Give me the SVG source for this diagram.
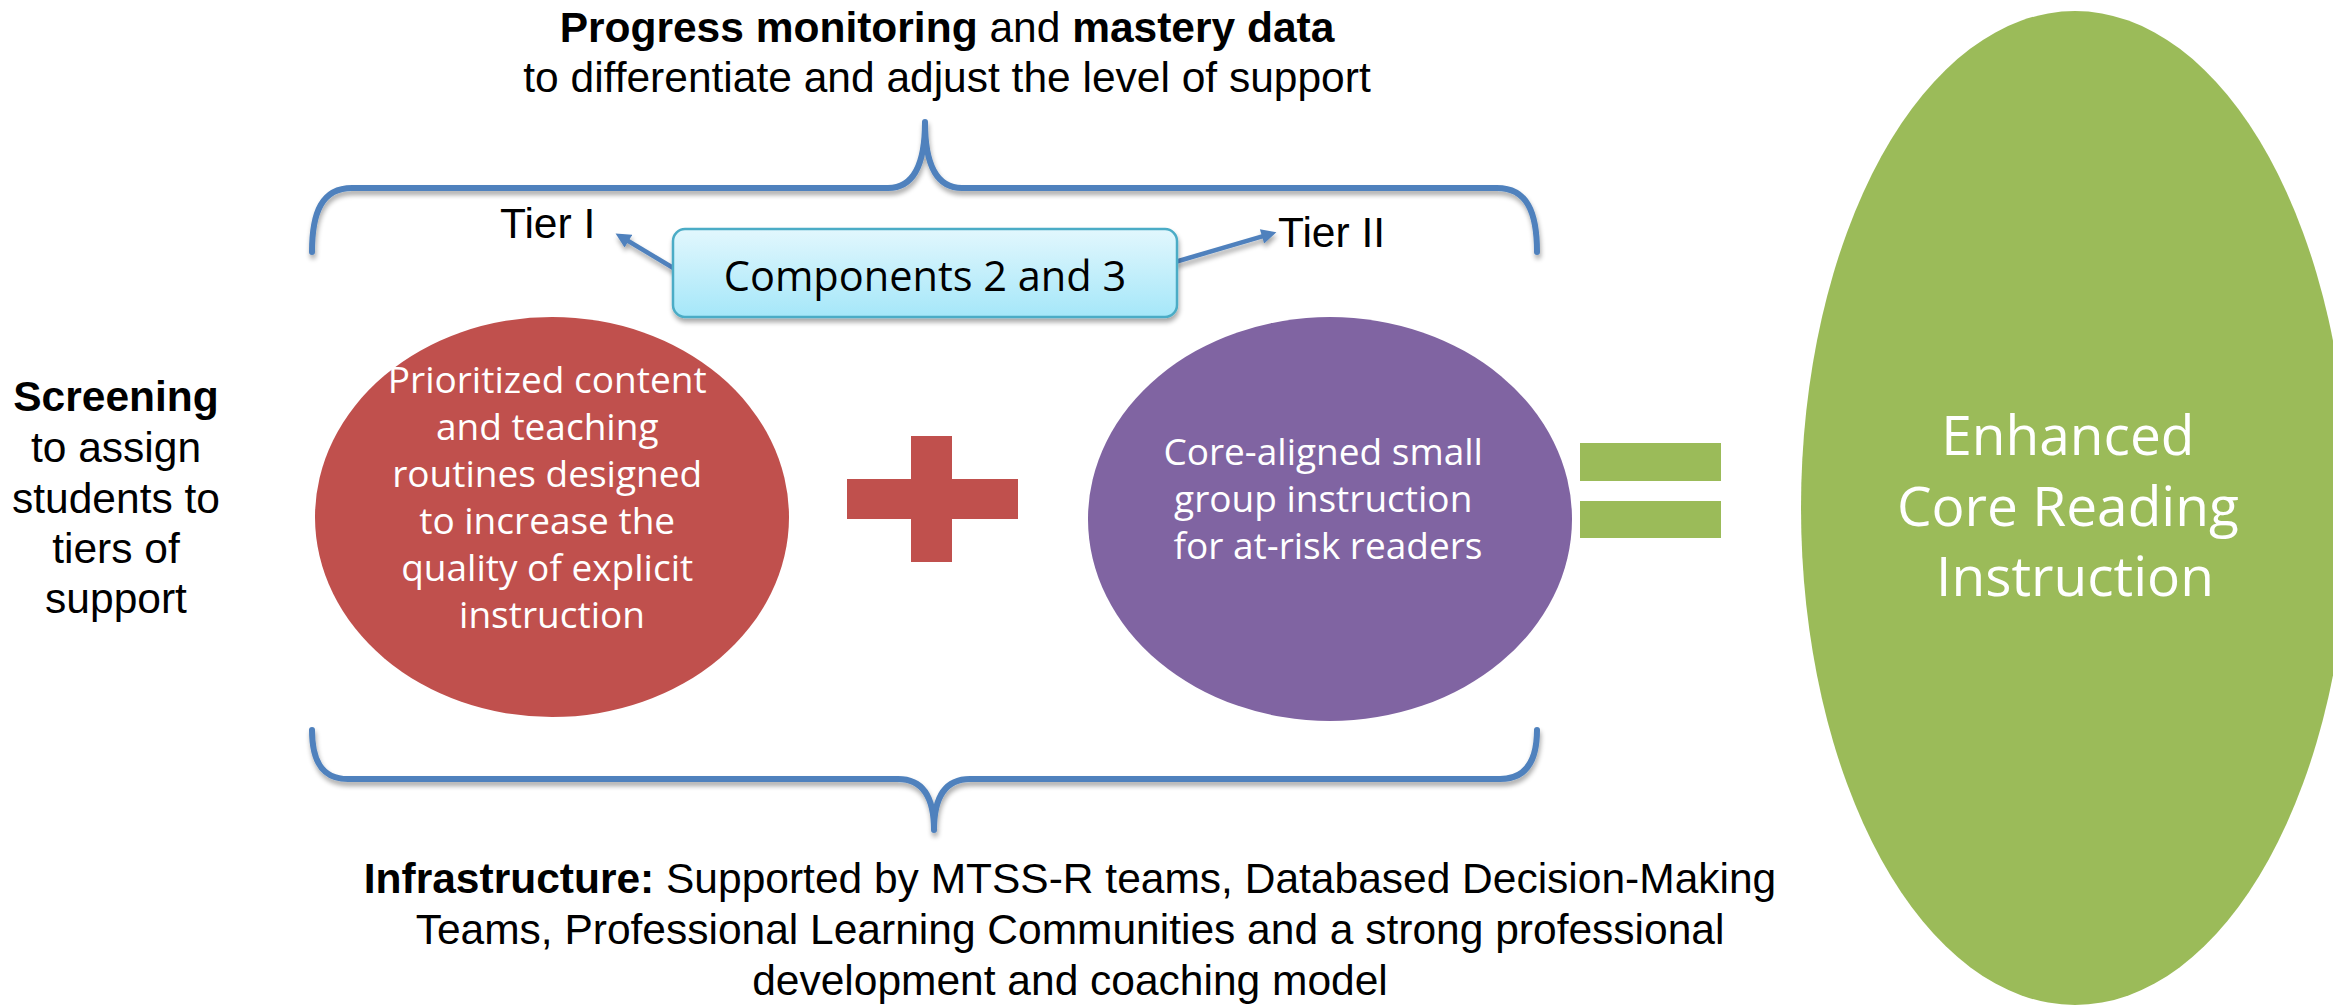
<svg xmlns="http://www.w3.org/2000/svg" width="2333" height="1006" viewBox="0 0 2333 1006">
  <defs>
    <style>
      .arial { font-family: "Liberation Sans", Arial, sans-serif; font-size: 42.5px; fill: #000; }
      .b { font-weight: bold; }
      .body { font-family: "Open Sans", "Noto Sans", sans-serif; fill: #fff; text-anchor: middle; }
      .brace { fill: none; stroke: #4f81bd; stroke-width: 6; stroke-linecap: round; stroke-linejoin: round; }
      .link { fill: none; stroke: #4f81bd; stroke-width: 4.5; }
    </style>
    <filter id="shadow" x="-5%" y="-20%" width="110%" height="150%">
      <feGaussianBlur in="SourceAlpha" stdDeviation="2.5"/>
      <feOffset dx="1" dy="4" result="off"/>
      <feComponentTransfer><feFuncA type="linear" slope="0.35"/></feComponentTransfer>
      <feMerge><feMergeNode/><feMergeNode in="SourceGraphic"/></feMerge>
    </filter>
    <linearGradient id="boxFill" x1="0" y1="0" x2="0" y2="1">
      <stop offset="0" stop-color="#e2f7fd"/>
      <stop offset="1" stop-color="#a5e7f9"/>
    </linearGradient>
    <marker id="head" viewBox="0 0 10 10" refX="3.75" refY="5" markerWidth="16" markerHeight="15" markerUnits="userSpaceOnUse" orient="auto">
      <path d="M0,0 L10,5 L0,10 z" fill="#4f81bd"/>
    </marker>
  </defs>

  <rect width="2333" height="1006" fill="#ffffff"/>

  <!-- heading above the upper brace -->
  <g id="progress-label" class="arial" text-anchor="middle">
    <text x="947" y="42"><tspan class="b">Progress monitoring</tspan> and <tspan class="b">mastery data</tspan></text>
    <text x="947" y="92">to differentiate and adjust the level of support</text>
  </g>

  <!-- screening note on the left -->
  <g id="screening-label" class="arial" text-anchor="middle">
    <text x="116" y="411" class="b">Screening</text>
    <text x="116" y="462">to assign</text>
    <text x="116" y="513">students to</text>
    <text x="116" y="563">tiers of</text>
    <text x="116" y="613">support</text>
  </g>

  <!-- braces -->
  <g id="braces" filter="url(#shadow)">
    <path class="brace" d="M312,252 C312,212 322,188 352,188 L888,188 C912,188 925,168 925,122 C925,168 938,188 962,188 L1497,188 C1527,188 1537,212 1537,252"/>
    <path class="brace" d="M312,730 C312,758 320,779 348,779 L898,779 C922,779 934,796 934,830 C934,796 946,779 970,779 L1500,779 C1528,779 1537,758 1537,730"/>
  </g>

  <!-- tier labels -->
  <g id="tier1-label" class="arial"><text x="500" y="238">Tier I</text></g>
  <g id="tier2-label" class="arial"><text x="1278" y="247">Tier II</text></g>

  <!-- connectors from the callout to the tier labels -->
  <g id="connectors" filter="url(#shadow)">
    <line class="link" x1="675" y1="269" x2="623.6" y2="238.2" marker-end="url(#head)"/>
    <line class="link" x1="1175" y1="262" x2="1267.4" y2="234.8" marker-end="url(#head)"/>
  </g>

  <!-- callout box -->
  <g id="components-box">
    <rect x="673" y="229" width="504" height="88" rx="12" ry="12" fill="url(#boxFill)" stroke="#4bacc6" stroke-width="2.5" filter="url(#shadow)"/>
    <text x="925" y="291" font-family="'Open Sans', 'Noto Sans', sans-serif" font-size="41.5" fill="#000" text-anchor="middle">Components 2 and 3</text>
  </g>

  <!-- tier I content -->
  <g id="core-instruction">
    <ellipse cx="552" cy="517" rx="237" ry="200" fill="#c0504d"/>
    <text class="body" font-size="37">
      <tspan x="552" y="393">Prioritized content</tspan>
      <tspan x="552" y="440">and teaching</tspan>
      <tspan x="552" y="487">routines designed</tspan>
      <tspan x="552" y="534">to increase the</tspan>
      <tspan x="552" y="581">quality of explicit</tspan>
      <tspan x="552" y="628">instruction</tspan>
    </text>
  </g>

  <!-- plus sign -->
  <g id="plus" fill="#c0504d">
    <rect x="911" y="436" width="41" height="126"/>
    <rect x="847" y="479" width="171" height="40"/>
  </g>

  <!-- tier II content -->
  <g id="small-group">
    <ellipse cx="1330" cy="519" rx="242" ry="202" fill="#8064a2"/>
    <text class="body" font-size="37">
      <tspan x="1328" y="465">Core-aligned small</tspan>
      <tspan x="1328" y="512">group instruction</tspan>
      <tspan x="1328" y="559">for at-risk readers</tspan>
    </text>
  </g>

  <!-- equals sign -->
  <g id="equals" fill="#9bbb59">
    <rect x="1580" y="443" width="141" height="38"/>
    <rect x="1580" y="501" width="141" height="37"/>
  </g>

  <!-- result -->
  <g id="enhanced-core">
    <ellipse cx="2075" cy="508" rx="274" ry="497" fill="#9bbb59"/>
    <text class="body" font-size="55">
      <tspan x="2075" y="455">Enhanced</tspan>
      <tspan x="2075" y="526">Core Reading</tspan>
      <tspan x="2075" y="596">Instruction</tspan>
    </text>
  </g>

  <!-- infrastructure note under the lower brace -->
  <g id="infrastructure-label" class="arial" text-anchor="middle">
    <text x="1070" y="893"><tspan class="b">Infrastructure:</tspan> Supported by MTSS-R teams, Databased Decision-Making</text>
    <text x="1070" y="944">Teams, Professional Learning Communities and a strong professional</text>
    <text x="1070" y="995">development and coaching model</text>
  </g>
</svg>
